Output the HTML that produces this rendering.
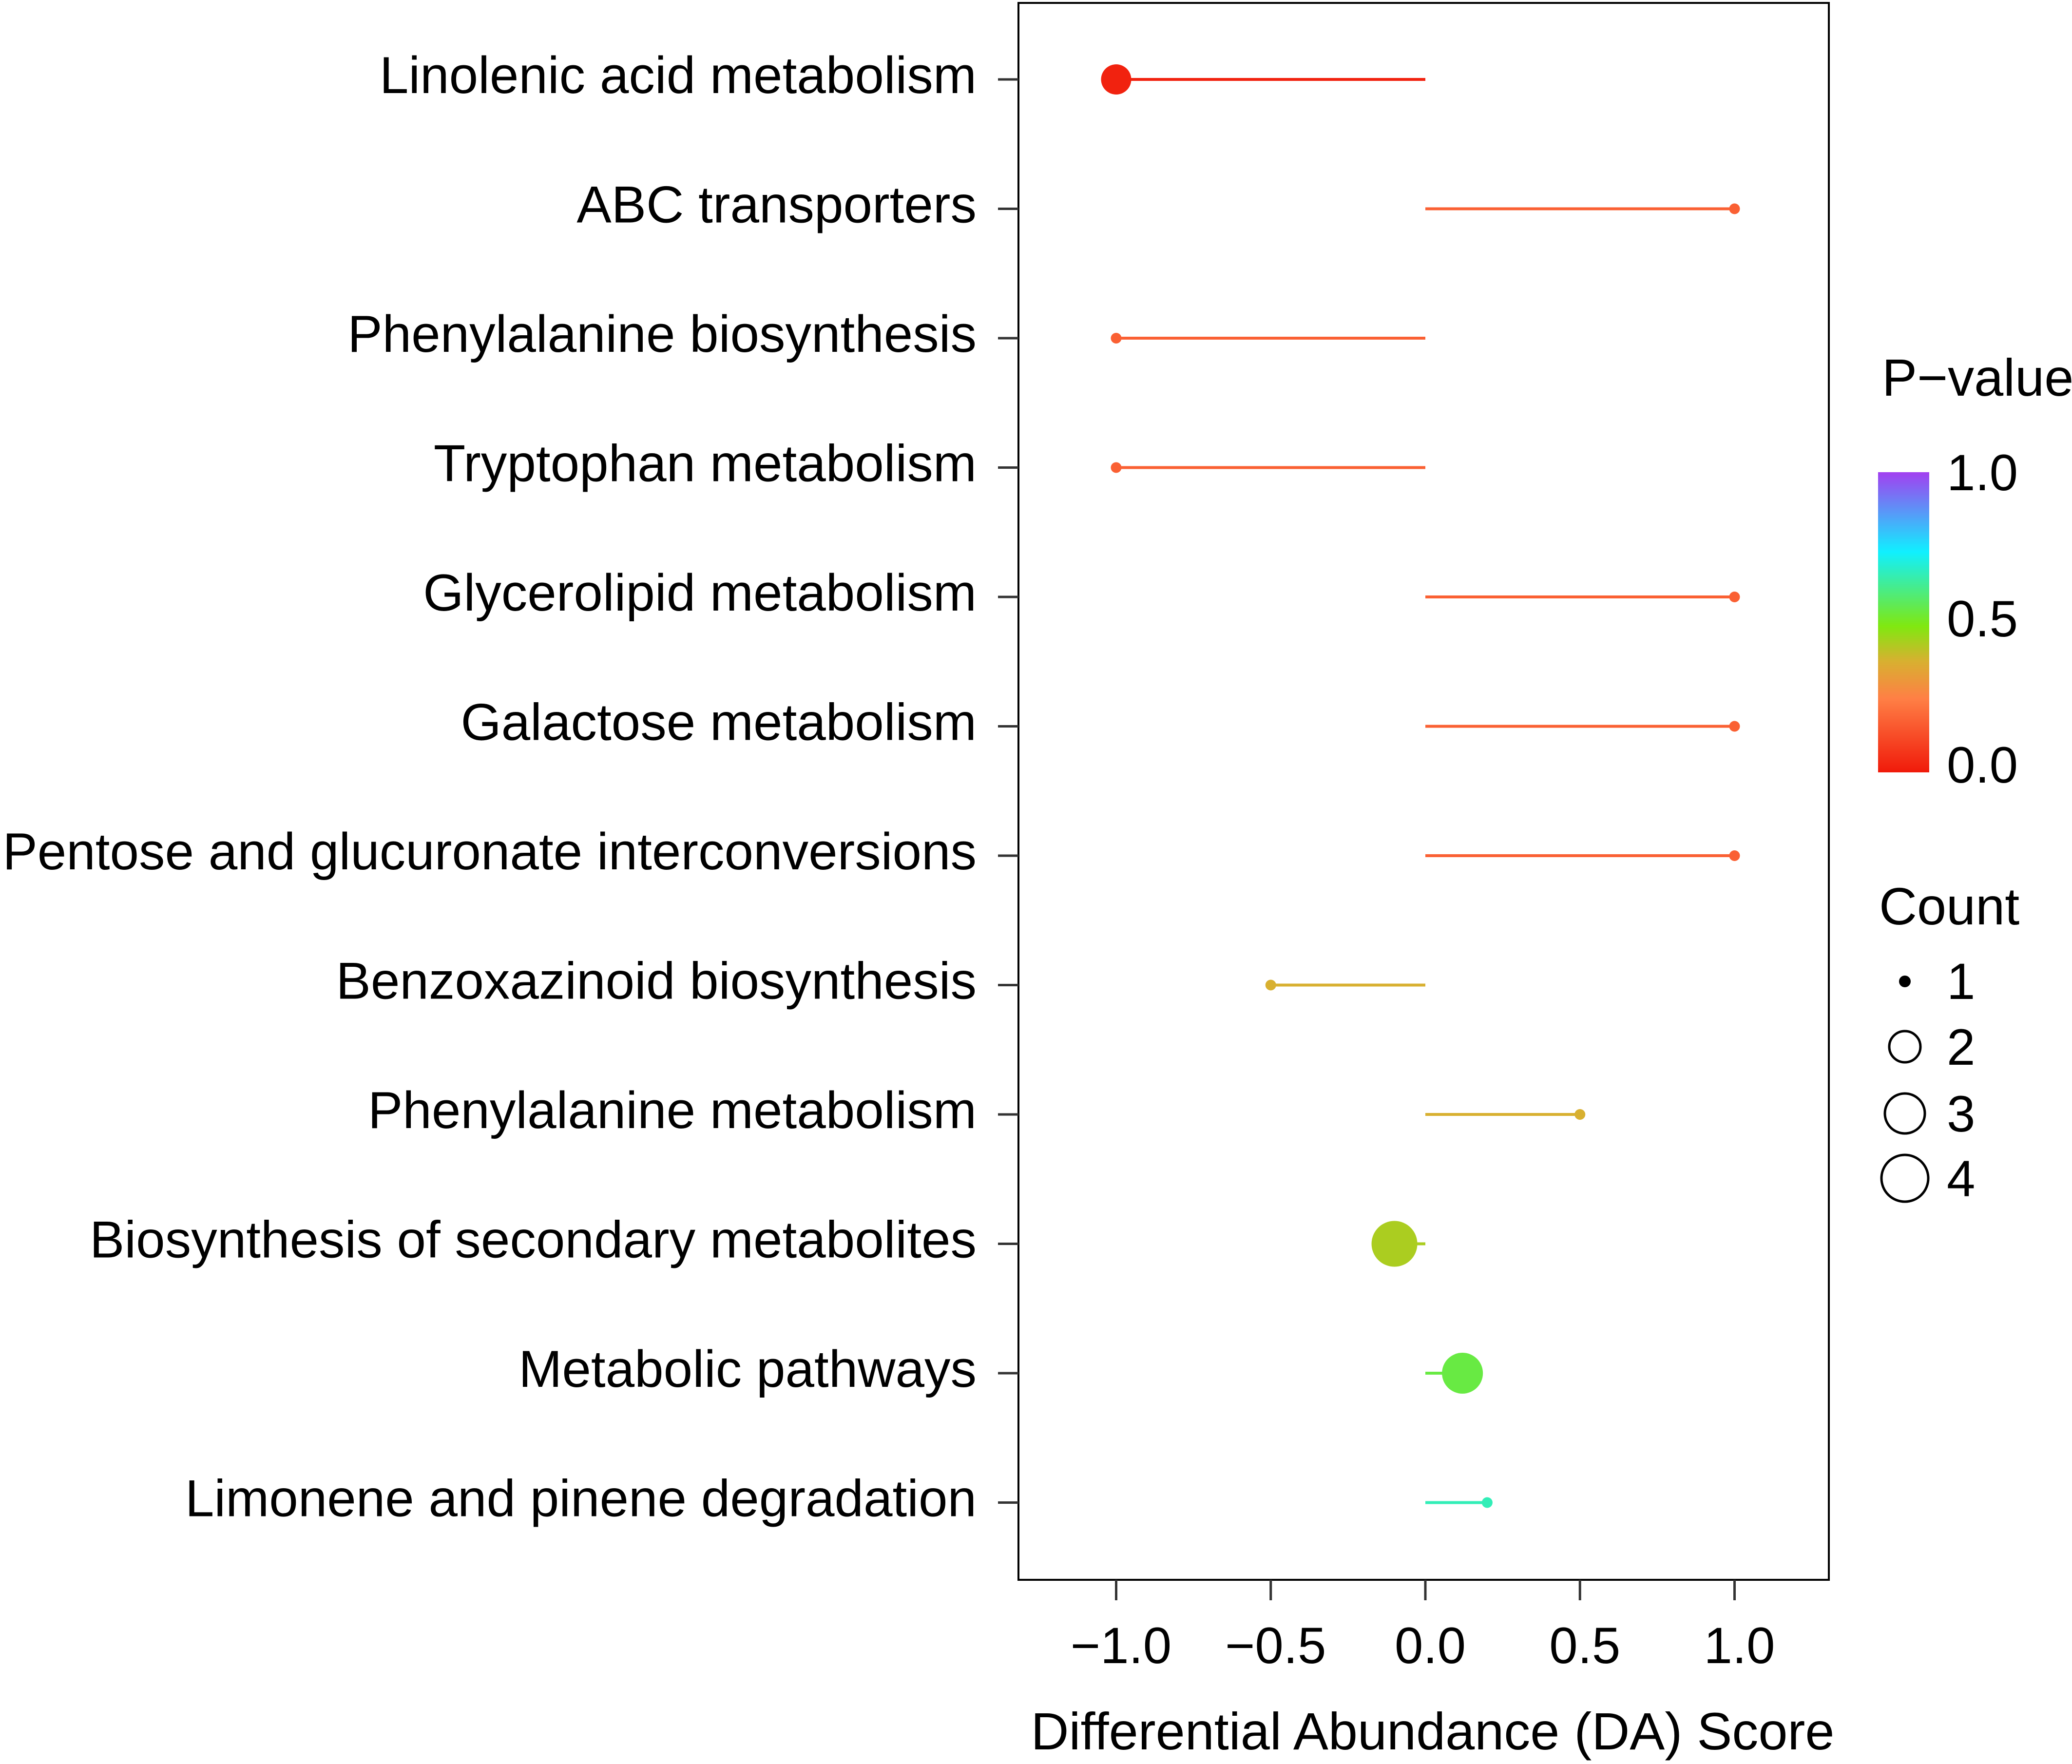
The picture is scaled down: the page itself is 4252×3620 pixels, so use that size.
<!DOCTYPE html>
<html><head><meta charset="utf-8"><style>
html,body{margin:0;padding:0;background:#fff}
svg{display:block}
text{font-family:"Liberation Sans",Arial,sans-serif;fill:#000}
</style></head><body>
<svg id="chart" width="4252" height="3620" viewBox="0 0 4252 3620" xmlns="http://www.w3.org/2000/svg">
<defs>
<linearGradient id="pgrad" x1="0" y1="1" x2="0" y2="0">
<stop offset="0" stop-color="#f01a0a"/>
<stop offset="0.245" stop-color="#ff7f45"/>
<stop offset="0.37" stop-color="#d8b030"/>
<stop offset="0.487" stop-color="#80e810"/>
<stop offset="0.734" stop-color="#10f0ff"/>
<stop offset="1" stop-color="#a23ff0"/>
</linearGradient>
</defs>
<g id="plot"></g>
<g id="legend">
<text x="3862" y="812" font-size="108">P−value</text>
<rect x="3854" y="969" width="105" height="616" fill="url(#pgrad)"/>
<text x="3995" y="1006" font-size="105">1.0</text>
<text x="3995" y="1306" font-size="105">0.5</text>
<text x="3995" y="1606" font-size="105">0.0</text>
<text x="3856" y="1897" font-size="108">Count</text>
<circle cx="3909" cy="2014" r="12" fill="#000"/>
<text x="3995" y="2050" font-size="105">1</text>
<circle cx="3909" cy="2148" r="32" fill="none" stroke="#000" stroke-width="5"/>
<text x="3995" y="2185" font-size="105">2</text>
<circle cx="3909" cy="2285" r="41" fill="none" stroke="#000" stroke-width="5"/>
<text x="3995" y="2322" font-size="105">3</text>
<circle cx="3909" cy="2418" r="48" fill="none" stroke="#000" stroke-width="5"/>
<text x="3995" y="2455" font-size="105">4</text>
</g>
</svg>
<script>
const categories = ["Linolenic acid metabolism","ABC transporters","Phenylalanine biosynthesis","Tryptophan metabolism","Glycerolipid metabolism","Galactose metabolism","Pentose and glucuronate interconversions","Benzoxazinoid biosynthesis","Phenylalanine metabolism","Biosynthesis of secondary metabolites","Metabolic pathways","Limonene and pinene degradation"];
const daScores = [-1, 1, -1, -1, 1, 1, 1, -0.5, 0.5, -0.1, 0.12, 0.2];
const pValues = [0.02, 0.17, 0.17, 0.17, 0.17, 0.17, 0.17, 0.37, 0.37, 0.43, 0.54, 0.66];
const counts = [2, 1, 1, 1, 1, 1, 1, 1, 1, 4, 3, 1];
const xTicks = [-1, -0.5, 0, 0.5, 1];
const xTickLabels = ["−1.0", "−0.5", "0.0", "0.5", "1.0"];

const NS = "http://www.w3.org/2000/svg";
const g = document.getElementById("plot");
const PL = 2090, PR = 3753, PT = 6, PB = 3242;
function xScale(v){ return 2925 + v * 634.5; }
function yScale(i){ return 163 + i * 265.5; }
function rScale(c){ return [0, 11, 31, 42, 47][c] || 11 + (c - 1) * 12; }
const stops = [[0,[240,26,10]],[0.245,[255,127,69]],[0.37,[216,176,48]],[0.487,[128,232,16]],[0.734,[16,240,255]],[1,[162,63,240]]];
function colorScale(p){
  for (let k = 1; k < stops.length; k++){
    if (p <= stops[k][0]){
      const a = stops[k-1], b = stops[k], t = (p - a[0]) / (b[0] - a[0]);
      const c = a[1].map((v, j) => Math.round(v + (b[1][j] - v) * t));
      return "rgb(" + c.join(",") + ")";
    }
  }
  return "rgb(162,63,240)";
}
function mk(tag, attrs){ const e = document.createElementNS(NS, tag); for (const k in attrs) e.setAttribute(k, attrs[k]); g.appendChild(e); return e; }

const frame = mk("rect", {x: PL, y: PT, width: PR - PL, height: PB - PT, fill: "none", stroke: "#000", "stroke-width": 4});



categories.forEach((name, i) => {
  const y = yScale(i);
  const tk = mk("line", {x1: PL - 42, x2: PL, y1: y, y2: y, stroke: "#333", "stroke-width": 5});
  
  
  const lb = mk("text", {x: 2004, y: y + 28, "font-size": 107, "text-anchor": "end"});
  lb.textContent = name;
  
  
  const col = colorScale(pValues[i]);
  const ln = mk("line", {x1: xScale(0), x2: xScale(daScores[i]), y1: y, y2: y, stroke: col, "stroke-width": 6});
  
  
  const pt = mk("circle", {cx: xScale(daScores[i]), cy: y, r: rScale(counts[i]), fill: col});
  
  
});

xTicks.forEach((v, i) => {
  const x = xScale(v);
  const tk = mk("line", {x1: x, x2: x, y1: PB, y2: PB + 42, stroke: "#333", "stroke-width": 5});
  
  
  const lb = mk("text", {x: x + 10, y: 3413, "font-size": 105, "text-anchor": "middle"});
  lb.textContent = xTickLabels[i];
  
  
});

const title = mk("text", {x: 2940, y: 3590, "font-size": 108, "text-anchor": "middle"});
title.textContent = "Differential Abundance (DA) Score";


</script>
</body></html>
